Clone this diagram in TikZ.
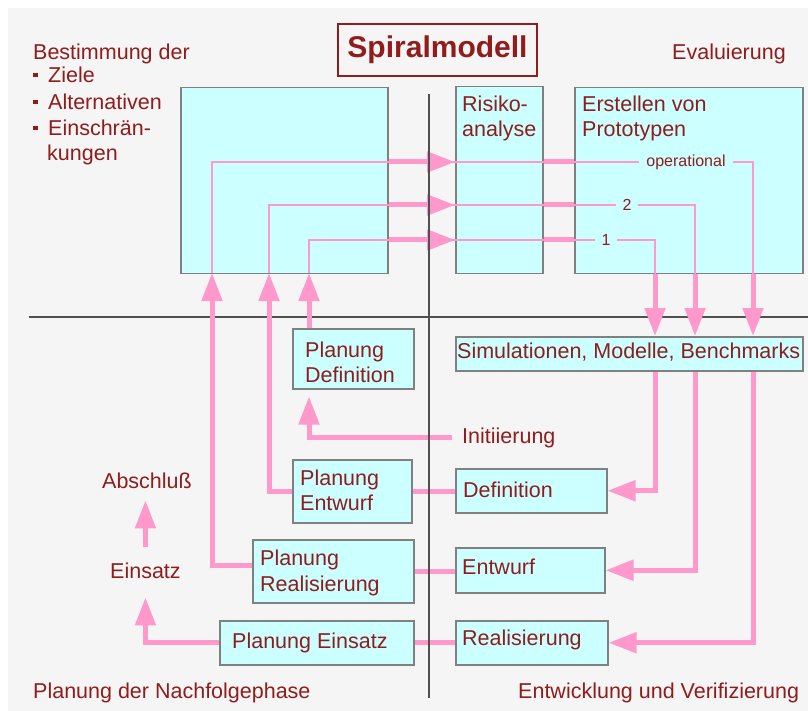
\documentclass[tikz,border=0pt]{standalone}
\usepackage{fontspec}
\setmainfont{Liberation Sans}
\usetikzlibrary{arrows.meta}

\definecolor{bggray}{RGB}{245,245,245}
\definecolor{boxcyan}{RGB}{204,255,255}
\definecolor{boxline}{RGB}{128,128,128}
\definecolor{linkpink}{RGB}{255,153,204}
\definecolor{darkred}{RGB}{145,28,28}
\definecolor{axisgray}{RGB}{80,80,80}

\begin{document}
\begin{tikzpicture}[x=1pt,y=-1pt,
  box/.style={draw=boxline, line width=1.5pt, fill=boxcyan, inner sep=0pt, anchor=north west},
  txt/.style={text=darkred, font=\fontsize{21.5}{25}\selectfont, inner sep=0pt, anchor=base west},
  looplabel/.style={text=darkred, font=\fontsize{16}{18}\selectfont, fill=boxcyan, inner xsep=7pt, inner ysep=1pt, anchor=base},
  link/.style={draw=linkpink, line width=2pt},
  flow/.style={draw=linkpink, line width=5pt},
  flowarr/.style={flow, -{Triangle[length=28pt,width=20pt]}},
  quadrant/.style={draw=axisgray, line width=1.5pt},
]
% backdrop
\fill[white] (0,0) rectangle (808,711);
\fill[bggray] (8,8) rectangle (808,711);
\useasboundingbox (0,0) rectangle (808,711);

% horizontal quadrant border
\draw[quadrant] (29,317) -- (808,317);

% title
\node[draw=darkred, line width=1.5pt, text=darkred, font=\bfseries\fontsize{30}{32}\selectfont,
      minimum width=199pt, minimum height=52pt, inner sep=0pt] (title) at (437.5,50) {Spiralmodell};

% boxes
\node[box, minimum width=207pt, minimum height=186pt] (goals) at (180,87) {};
\node[box, minimum width=87pt,  minimum height=187pt] (risk)  at (455,86) {};
\node[box, minimum width=228pt, minimum height=186pt] (proto) at (574,87) {};
\node[box, minimum width=347pt, minimum height=34pt]  (sim)   at (455,336) {};
\node[box, minimum width=151pt, minimum height=44pt]  (def)   at (455,468) {};
\node[box, minimum width=149pt, minimum height=45pt]  (entw)  at (455,547) {};
\node[box, minimum width=152pt, minimum height=44pt]  (real)  at (455,620) {};
\node[box, minimum width=121pt, minimum height=60pt]  (pdef)  at (292,328) {};
\node[box, minimum width=119pt, minimum height=63pt]  (pentw) at (292,459) {};
\node[box, minimum width=161pt, minimum height=63pt]  (preal) at (252,539) {};
\node[box, minimum width=194pt, minimum height=44pt]  (peins) at (219,620) {};

% loop corner points
\coordinate (in1) at (309,273);
\coordinate (in2) at (269,273);
\coordinate (in3) at (212,273);
\coordinate (turn1) at (309,240);
\coordinate (turn2) at (269,205);
\coordinate (turn3) at (212,162);
\coordinate (out1) at (655,240);
\coordinate (out2) at (695,205);
\coordinate (out3) at (753,162);
\coordinate (prOut) at ([yshift=6pt]preal.west);

% thin spiral lines through the upper quadrants
\draw[link] (in1) -- (turn1) -- (out1) -- (out1 |- proto.south);
\draw[link] (in2) -- (turn2) -- (out2) -- (out2 |- proto.south);
\draw[link] (in3) -- (turn3) -- (out3) -- (out3 |- proto.south);

\node[looplabel] (lbl1) at (606,246) {1};
\node[looplabel] (lbl2) at (627,211) {2};
\node[looplabel] (lbl3) at (686,166.5) {operational};

% thick segments between the boxes
\foreach \t in {turn1,turn2,turn3}{
  \draw[flowarr] (\t -| goals.east) -- (\t -| risk.west);
  \draw[flow] (\t -| risk.east) -- (\t -| proto.west);
}
\foreach \o in {out1,out2,out3}{
  \draw[flowarr] (\o |- proto.south) -- (\o |- sim.north);
}

% results back to the development steps
\draw[flowarr] (out1 |- sim.south) -- (out1 |- def.east) -- (def.east);
\draw[flowarr] (out2 |- sim.south) -- (out2 |- entw.east) -- (entw.east);
\draw[flowarr] (out3 |- sim.south) -- (out3 |- real.east) -- (real.east);

% planning boxes feeding the next round
\draw[flowarr] (pdef.north -| in1) -- (in1);
\draw[flowarr] (pentw.west) -- (pentw.west -| in2) -- (in2);
\draw[flowarr] (prOut) -- (prOut -| in3) -- (in3);

\draw[flow] (pentw.east) -- (pentw.east -| def.west);
\draw[flow] (preal.east) -- (preal.east -| entw.west);
\draw[flow] (peins.east) -- (peins.east -| real.west);

% texts outside the boxes
\node[txt] (init) at (462,443) {Initiierung};
\node[txt] (abschluss) at (102,488) {Abschluß};
\node[txt] (einsatz) at (110,578) {Einsatz};

\draw[flowarr, shorten <=10pt, shorten >=7pt] (init.west) -- (init.west -| in1) -- (pdef.south -| in1);
\draw[flowarr, shorten >=19pt] (peins.west) -- (peins.west -| einsatz.south) -- (einsatz.south);
\draw[flowarr, shorten <=15pt, shorten >=12pt] (einsatz.north) -- (einsatz.north |- abschluss.south);

% vertical quadrant border
\draw[quadrant] (429,94) -- (429,698);

% quadrant headings
\node[txt] (goal0) at (33,60) {Bestimmung der};
\node[txt] (goal1) at (33,83) {\rule[5.5pt]{4.5pt}{4.5pt}\hspace{10.5pt}Ziele};
\node[txt] (goal2) at (33,110) {\rule[5.5pt]{4.5pt}{4.5pt}\hspace{10.5pt}Alternativen};
\node[txt] (goal3) at (33,136) {\rule[5.5pt]{4.5pt}{4.5pt}\hspace{10.5pt}Einschrän-};
\node[txt] (goal4) at (47,161) {kungen};
\node[txt] (evalT) at (672,60) {Evaluierung};
\node[txt] (nextT) at (33,698) {Planung der Nachfolgephase};
\node[txt] (devT) at (518,698) {Entwicklung und Verifizierung};

% box texts
\node[txt] (riskA) at (462,112) {Risiko-};
\node[txt] (riskB) at (462,137) {analyse};
\node[txt] (protoA) at (582,112) {Erstellen von};
\node[txt] (protoB) at (582,137) {Prototypen};
\node[txt] (simT) at (457,358) {Simulationen, Modelle, Benchmarks};
\node[txt] (pdefA) at (305,357) {Planung};
\node[txt] (pdefB) at (305,382) {Definition};
\node[txt] (pentwA) at (300,485) {Planung};
\node[txt] (pentwB) at (300,510) {Entwurf};
\node[txt] (prealA) at (260,565) {Planung};
\node[txt] (prealB) at (260,591) {Realisierung};
\node[txt] (peinsT) at (232,648) {Planung Einsatz};
\node[txt] (defT) at (463,497) {Definition};
\node[txt] (entwT) at (462,574) {Entwurf};
\node[txt] (realT) at (462,645) {Realisierung};
\end{tikzpicture}
\end{document}
